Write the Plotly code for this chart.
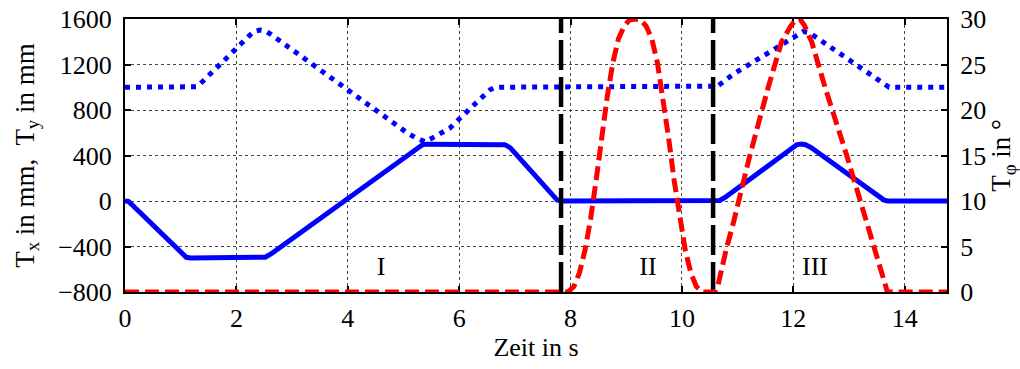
import plotly.graph_objects as go

# ---- data ----
tx_time = [0, 0.06, 0.14, 1.02, 1.10, 1.18, 2.44, 2.52, 2.62, 5.24, 5.34, 5.42,
           6.74, 6.82, 6.92, 7.68, 7.76, 7.84, 10.60, 10.68, 10.78, 11.98, 12.06,
           12.14, 12.22, 12.32, 13.55, 13.63, 13.70, 14.76]
tx_val = [0, -3, -40, -470, -495, -500, -500, -494, -466, 462, 494, 500,
          500, 495, 467, 48, 8, 0, 0, 5, 33, 470, 494,
          500, 495, 470, 37, 8, 0, 0]

ty_time = [0, 1.20, 1.28, 1.36, 1.65, 1.94, 2.21, 2.32, 2.42, 2.52, 2.62, 2.84,
           5.04, 5.21, 5.39, 5.53, 5.83, 6.25, 6.45, 6.56, 6.66, 10.56, 10.64,
           10.92, 11.88, 12.05, 12.18, 12.30, 12.78, 13.47, 13.62, 13.72, 14.76]
ty_val = [1000, 1000, 1004, 1035, 1167, 1313, 1444, 1490, 1503, 1495, 1465, 1386,
          609, 557, 521, 557, 639, 838, 935, 980, 1000, 1000, 1010,
          1114, 1400, 1460, 1490, 1476, 1313, 1079, 1025, 1000, 1000]

tphi_time = [0, 7.95, 8.06, 8.16, 8.26, 8.36, 8.46, 8.56, 8.66, 8.76, 8.86, 8.96,
             9.06, 9.16, 9.26, 9.36, 9.46, 9.56, 9.66, 9.76, 9.86, 9.96, 10.06,
             10.16, 10.26, 10.37, 10.52, 10.59, 10.65, 10.71, 10.80, 10.92, 11.22,
             11.55, 11.79, 11.95, 12.05, 12.12, 12.20, 12.33, 12.57, 12.96, 13.32,
             13.45, 13.56, 13.63, 13.69, 14.76]
tphi_val = [0, 0, 0.6, 2.1, 4.6, 8.0, 12.3, 17.0, 21.5, 25.2, 27.8, 29.2,
            29.9, 30, 29.9, 29.2, 27.8, 25.2, 21.5, 17.0, 12.3, 8.0, 4.6,
            2.1, 0.6, 0, 0, 0, 0.8, 2.5, 4.8, 7.5, 15,
            22.5, 27.5, 29.2, 30, 30, 29.3, 27.5, 22.5, 15, 7.5,
            4.8, 2.5, 0.8, 0, 0]

phase_bounds = [7.83, 10.56]
phase_labels = ["I", "II", "III"]
phase_label_t = [4.6, 9.39, 12.39]
phase_label_y = [-590, -590, -590]

x_ticks = [0, 2, 4, 6, 8, 10, 12, 14]
y_ticks = [-800, -400, 0, 400, 800, 1200, 1600]
y2_ticks = [0, 5, 10, 15, 20, 25, 30]

FONT = "Liberation Serif"
BLUE = "#0000ff"
RED = "#ff0000"

fig = go.Figure()
fig.add_trace(go.Scatter(x=tx_time, y=tx_val, mode="lines",
                         line=dict(color=BLUE, width=5), yaxis="y"))
fig.add_trace(go.Scatter(x=ty_time, y=ty_val, mode="lines",
                         line=dict(color=BLUE, width=5, dash="5px,6px"), yaxis="y"))
for b in phase_bounds:
    fig.add_trace(go.Scatter(x=[b, b], y=[y_ticks[0], y_ticks[-1]], mode="lines",
                             line=dict(color="black", width=4.5, dash="30px,7px"),
                             yaxis="y"))
fig.add_trace(go.Scatter(x=tphi_time, y=tphi_val, mode="lines", cliponaxis=False,
                         line=dict(color=RED, width=5, dash="14px,6px"), yaxis="y2"))
fig.add_trace(go.Scatter(x=phase_label_t, y=phase_label_y, mode="text",
                         text=phase_labels, textfont=dict(family=FONT, size=26, color="black"),
                         yaxis="y"))

axis_common = dict(showline=True, linecolor="black", linewidth=2, layer="below traces",
                   ticks="inside", ticklen=6, tickcolor="black", tickwidth=1.5,
                   tickfont=dict(family=FONT, size=26, color="black"),
                   zeroline=False, automargin=False)

fig.update_layout(
    width=1020, height=369,
    margin=dict(l=125, r=73, t=19, b=77),
    paper_bgcolor="white", plot_bgcolor="white",
    showlegend=False,
    xaxis=dict(range=[0, 14.76], tickvals=x_ticks, mirror="ticks", ticklabelstandoff=2,
               showgrid=True, gridcolor="#444444", gridwidth=1, griddash="dot",
               title=dict(text="Zeit in s", font=dict(family=FONT, size=26, color="black"),
                          standoff=4),
               **axis_common),
    yaxis=dict(range=[-800, 1600], tickvals=y_ticks, mirror="ticks", ticklabelstandoff=6,
               showgrid=True, gridcolor="#444444", gridwidth=1, griddash="dot",
               title=dict(text="T<sub>x</sub> in mm,  T<sub>y</sub> in mm",
                          font=dict(family=FONT, size=27, color="black"), standoff=16),
               **axis_common),
    yaxis2=dict(range=[0, 30], tickvals=y2_ticks, overlaying="y", side="right",
                ticklabelstandoff=6, showgrid=False,
                title=dict(text="T<sub>φ</sub> in °",
                           font=dict(family=FONT, size=27, color="black"), standoff=12),
                **axis_common),
)

fig.write_html("out.html")
